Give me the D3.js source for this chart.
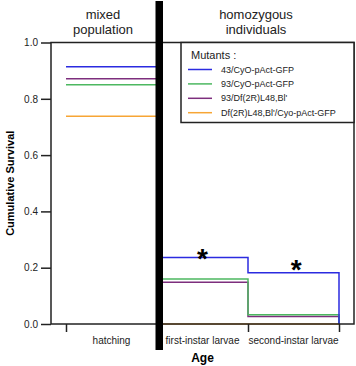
<!DOCTYPE html>
<html>
<head>
<meta charset="utf-8">
<script src="https://cdn.jsdelivr.net/npm/d3@7"></script>
<style>
  body { margin: 0; background: #fff; }
  svg { font-family: "Liberation Sans", Arial, Helvetica, sans-serif; }
</style>
</head>
<body>
<div id="chart"></div>
<script>
// stages (x index 0..3), labels sit between ticks
var stages = ['hatching', 'first-instar larvae', 'second-instar larvae']
var yTicks = [0, 0.2, 0.4, 0.6, 0.8, 1.0]

var seriesNames = ['43/CyO-pAct-GFP', '93/CyO-pAct-GFP', "93/Df(2R)L48,Bl'", "Df(2R)L48,Bl'/Cyo-pAct-GFP"]
var seriesColors = ['#2b2be0', '#4cb860', '#7d2e7d', '#f7a535']
// cumulative survival at each tick (0..3)
var s43 = [0.914, 0.236, 0.182, 0]
var s93 = [0.850, 0.160, 0.033, 0]
var s93df = [0.871, 0.148, 0.027, 0]
var sDf = [0.738, 0, 0, 0]

// significance stars (centre position, data units)
var stars = [{ x: 1.5, y: 0.256 }, { x: 2.53, y: 0.218 }]

var width = 356, height = 366
var plotLeft = 51, plotRight = 354, plotTop = 42.5, plotBottom = 324

var svg = d3.select('#chart').append('svg')
    .attr('width', width).attr('height', height)

var x = d3.scaleLinear().domain([0, 3]).range([66, 339])
var y = d3.scaleLinear().domain([0, 1]).range([plotBottom, plotTop])

// series in draw order (purple under green)
var series = [
    { name: seriesNames[3], color: seriesColors[3], values: sDf },
    { name: seriesNames[2], color: seriesColors[2], values: s93df },
    { name: seriesNames[1], color: seriesColors[1], values: s93 },
    { name: seriesNames[0], color: seriesColors[0], values: s43 }
]

var line = d3.line()
    .x(function(d, i) { return x(i) })
    .y(function(d) { return y(d) })
    .curve(d3.curveStepAfter)

svg.append('g').selectAll('path')
    .data(series)
    .enter()
    .append('path')
    .attr('fill', 'none')
    .attr('stroke', function(d) { return d.color })
    .attr('stroke-width', 1.5)
    .attr('d', function(d) { return line(d.values) })

// frame
svg.append('rect')
    .attr('x', plotLeft).attr('y', plotTop)
    .attr('width', plotRight - plotLeft).attr('height', plotBottom - plotTop)
    .attr('fill', 'none').attr('stroke', '#222').attr('stroke-width', 1.5)

// y axis
var yAxis = svg.append('g')
    .attr('transform', 'translate(' + plotLeft + ',0)')
    .call(d3.axisLeft(y).tickValues(yTicks).tickFormat(d3.format('.1f')).tickSize(10).tickPadding(3))
yAxis.select('.domain').remove()
yAxis.selectAll('line').attr('stroke', '#222').attr('stroke-width', 1.5)
yAxis.selectAll('text').attr('font-size', 10).attr('fill', '#222')

// x axis: ticks at stage boundaries, labels in between
var xAxis = svg.append('g')
    .attr('transform', 'translate(0,' + plotBottom + ')')
    .call(d3.axisBottom(x).tickValues([0, 1, 2, 3]).tickFormat('').tickSize(8))
xAxis.select('.domain').remove()
xAxis.selectAll('line').attr('stroke', '#222').attr('stroke-width', 1.5)

svg.append('g').selectAll('text')
    .data(stages)
    .enter()
    .append('text')
    .attr('x', function(d, i) { return x(i + 0.5) })
    .attr('y', 344)
    .attr('text-anchor', 'middle')
    .attr('font-size', 10)
    .attr('fill', '#222')
    .text(function(d) { return d })

// axis titles
svg.append('text')
    .attr('x', x(1.5)).attr('y', 362)
    .attr('text-anchor', 'middle')
    .attr('font-size', 12).attr('font-weight', 'bold')
    .text('Age')
svg.append('text')
    .attr('transform', 'translate(14,' + ((plotTop + plotBottom) / 2) + ') rotate(-90)')
    .attr('text-anchor', 'middle')
    .attr('font-size', 11).attr('font-weight', 'bold')
    .text('Cumulative Survival')

// black separator bar
svg.append('rect')
    .attr('x', 155.5).attr('y', 1)
    .attr('width', 7.5).attr('height', 349)
    .attr('fill', '#000')

// section titles
var titles = [
    { lines: ['mixed', 'population'], cx: 103 },
    { lines: ['homozygous', 'individuals'], cx: 256 }
]
titles.forEach(function(t) {
    t.lines.forEach(function(l, i) {
        svg.append('text')
            .attr('x', t.cx).attr('y', 19 + i * 15)
            .attr('text-anchor', 'middle')
            .attr('font-size', 13).attr('fill', '#222')
            .text(l)
    })
})

svg.append('g').selectAll('text')
    .data(stars)
    .enter()
    .append('text')
    .attr('x', function(d) { return x(d.x) })
    .attr('y', function(d) { return y(d.y) + 16 })
    .attr('text-anchor', 'middle')
    .attr('font-size', 28).attr('font-weight', 'bold')
    .text('*')

// legend
var legend = svg.append('g').attr('transform', 'translate(181,' + plotTop + ')')
legend.append('rect')
    .attr('width', 173).attr('height', 80)
    .attr('fill', '#fff').attr('stroke', '#222').attr('stroke-width', 1.5)
legend.append('text')
    .attr('x', 10).attr('y', 16)
    .attr('font-size', 11).attr('fill', '#222')
    .text('Mutants :')
var items = legend.selectAll('.item')
    .data(seriesNames)
    .enter()
    .append('g')
    .attr('class', 'item')
    .attr('transform', function(d, i) { return 'translate(0,' + (27 + i * 14.4) + ')' })
items.append('line')
    .attr('x1', 7).attr('x2', 31)
    .attr('stroke', function(d, i) { return seriesColors[i] })
    .attr('stroke-width', 1.5)
items.append('text')
    .attr('x', 40).attr('y', 3)
    .attr('font-size', 9).attr('fill', '#222')
    .text(function(d) { return d })
</script>
</body>
</html>
